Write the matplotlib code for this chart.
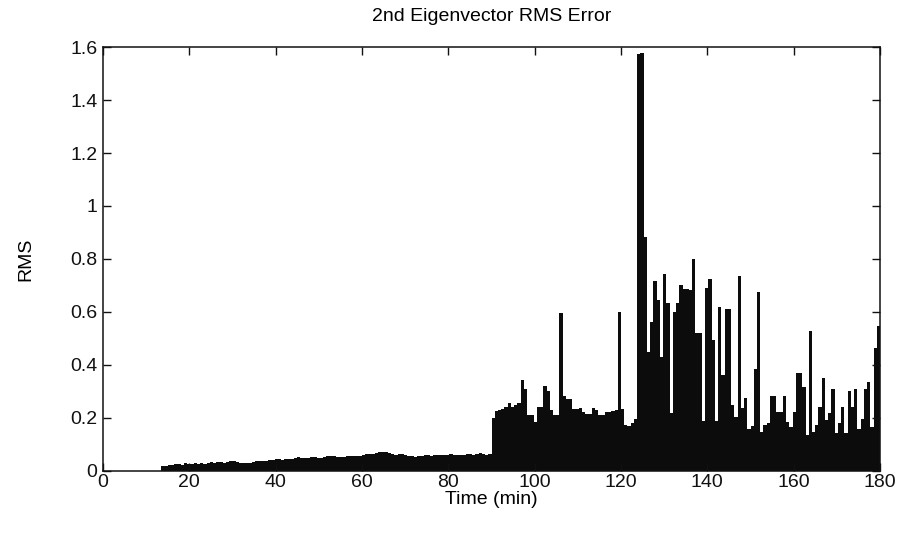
import matplotlib
matplotlib.use('Agg')

import numpy as np
import matplotlib.pyplot as plt

# Bar spacing of the RMS record (minutes) and first bar start
BIN_MIN = 0.75
START_MIN = 13.5

# RMS values, one list per 15 minute block (20 bars each)
rms_13_28 = [0.018, 0.020, 0.021, 0.024, 0.026, 0.026, 0.024, 0.030, 0.026, 0.028,
             0.029, 0.027, 0.031, 0.028, 0.030, 0.033, 0.032, 0.035, 0.034, 0.032]
rms_28_43 = [0.035, 0.037, 0.036, 0.034, 0.032, 0.031, 0.031, 0.030, 0.033, 0.037,
             0.038, 0.036, 0.038, 0.040, 0.042, 0.044, 0.044, 0.041, 0.045, 0.047]
rms_43_58 = [0.046, 0.050, 0.052, 0.050, 0.048, 0.049, 0.051, 0.052, 0.050, 0.049,
             0.053, 0.055, 0.057, 0.056, 0.054, 0.051, 0.052, 0.055, 0.057, 0.058]
rms_58_73 = [0.058, 0.057, 0.060, 0.063, 0.065, 0.063, 0.067, 0.070, 0.072, 0.071,
             0.069, 0.065, 0.061, 0.063, 0.065, 0.062, 0.057, 0.055, 0.054, 0.056]
rms_73_88 = [0.057, 0.059, 0.060, 0.058, 0.061, 0.062, 0.060, 0.059, 0.061, 0.063,
             0.062, 0.060, 0.059, 0.061, 0.064, 0.065, 0.062, 0.065, 0.067, 0.063]
rms_88_103 = [0.060, 0.063, 0.200, 0.228, 0.232, 0.233, 0.240, 0.255, 0.243, 0.250,
              0.258, 0.343, 0.310, 0.211, 0.211, 0.186, 0.243, 0.243, 0.320, 0.300]
rms_103_118 = [0.230, 0.212, 0.211, 0.595, 0.283, 0.270, 0.270, 0.233, 0.233, 0.237,
               0.224, 0.215, 0.215, 0.237, 0.230, 0.211, 0.210, 0.224, 0.224, 0.225]
rms_118_133 = [0.230, 0.600, 0.235, 0.175, 0.170, 0.180, 0.196, 1.575, 1.578, 0.884,
               0.450, 0.563, 0.718, 0.645, 0.430, 0.743, 0.635, 0.218, 0.600, 0.635]
rms_133_148 = [0.700, 0.685, 0.685, 0.683, 0.800, 0.520, 0.520, 0.190, 0.690, 0.723,
               0.494, 0.190, 0.620, 0.362, 0.610, 0.610, 0.250, 0.203, 0.736, 0.237]
rms_148_163 = [0.274, 0.160, 0.170, 0.384, 0.677, 0.148, 0.174, 0.182, 0.283, 0.283,
               0.224, 0.224, 0.284, 0.186, 0.167, 0.224, 0.371, 0.371, 0.318, 0.136]
rms_163_178 = [0.530, 0.148, 0.174, 0.243, 0.350, 0.192, 0.218, 0.310, 0.142, 0.182,
               0.243, 0.142, 0.303, 0.243, 0.310, 0.157, 0.196, 0.310, 0.337, 0.167]
rms_178_180 = [0.463, 0.548]

x_ticks = [0, 20, 40, 60, 80, 100, 120, 140, 160, 180]
y_ticks = [0, 0.2, 0.4, 0.6, 0.8, 1.0, 1.2, 1.4, 1.6]
y_tick_labels = ['0', '0.2', '0.4', '0.6', '0.8', '1', '1.2', '1.4', '1.6']

if __name__ == '__main__':

    plt.rcParams['font.family'] = ['Liberation Sans', 'DejaVu Sans']

    # Join the blocks and place each bar on the time axis
    rms = np.concatenate([rms_13_28, rms_28_43, rms_43_58, rms_58_73, rms_73_88,
                          rms_88_103, rms_103_118, rms_118_133, rms_133_148,
                          rms_148_163, rms_163_178, rms_178_180])
    time = START_MIN + BIN_MIN * np.arange(len(rms))

    fig = plt.figure(figsize = (9.06, 5.36), dpi = 100)
    axis = fig.add_axes([0.1137, 0.1213, 0.8576, 0.791])

    axis.bar(time, rms, width = BIN_MIN, align = 'edge',
             color = '#0c0c0c', edgecolor = 'none', linewidth = 0)

    axis.set_xlim(0, 180)
    axis.set_ylim(0, 1.6)
    axis.set_xticks(x_ticks)
    axis.set_yticks(y_ticks)
    axis.set_yticklabels(y_tick_labels)

    # MATLAB style box with inward ticks on every side
    axis.tick_params(direction = 'in', length = 6, width = 1.0,
                     top = True, right = True, labelsize = 14,
                     colors = '#111111')
    axis.tick_params(axis = 'x', pad = 2)
    axis.tick_params(axis = 'y', pad = 4)
    for spine in axis.spines.values():
        spine.set_linewidth(1.1)
        spine.set_color('#111111')

    axis.set_xlabel('Time (min)', fontsize = 14, labelpad = 0)
    axis.set_ylabel('RMS', fontsize = 14, labelpad = 26)
    axis.set_title('2nd Eigenvector RMS Error', fontsize = 14, pad = 19)

    fig.savefig('out.png', dpi = 100)
